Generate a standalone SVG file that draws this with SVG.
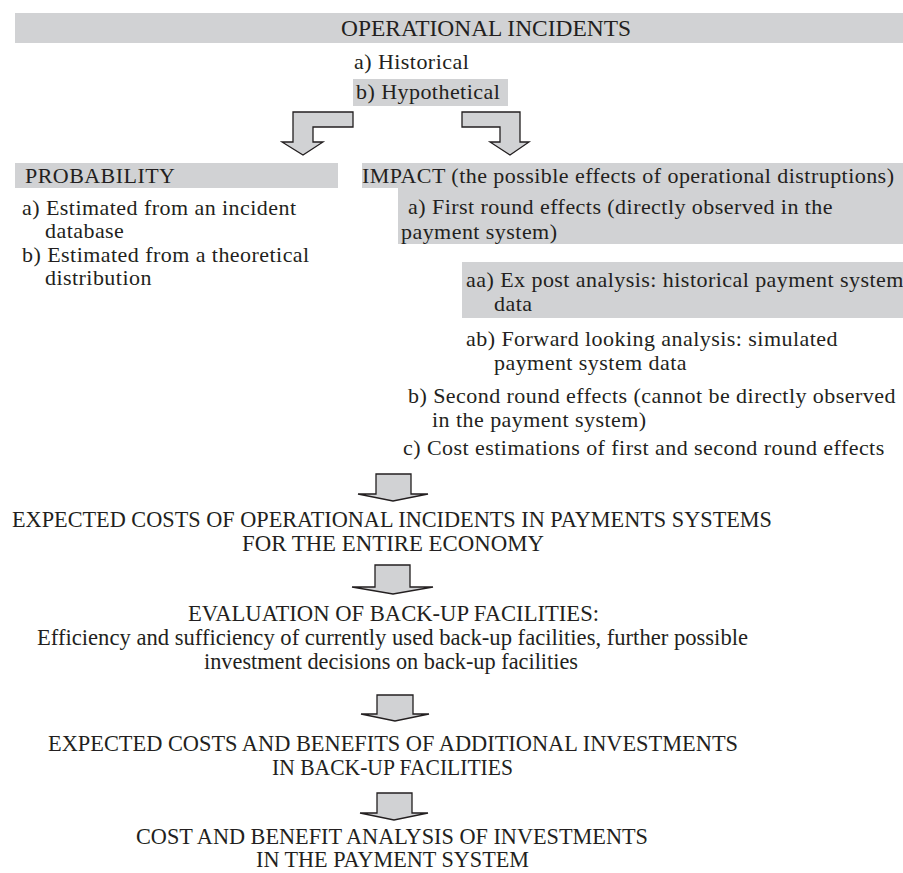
<svg xmlns="http://www.w3.org/2000/svg" width="903" height="873" viewBox="0 0 903 873">
<style>
.bg{fill:#d1d2d4}
.t{font-family:"Liberation Serif","Times New Roman",serif;font-size:22px;letter-spacing:0.45px;fill:#231f20}
.c{font-family:"Liberation Serif","Times New Roman",serif;font-size:23px;fill:#231f20}
.ar{fill:#d1d2d4;stroke:#231f20;stroke-width:1.3;stroke-linejoin:miter}
</style>
<rect width="903" height="873" fill="#fff"/>
<g id="incidents">
<rect class="bg" x="15" y="13" width="888" height="30"/>
<text class="c" x="341" y="36" textLength="290" lengthAdjust="spacingAndGlyphs">OPERATIONAL INCIDENTS</text>
<text class="t" x="354" y="69">a) Historical</text>
<rect class="bg" x="353" y="79" width="155" height="27"/>
<text class="t" x="356" y="99">b) Hypothetical</text>
</g>
<g id="probability">
<rect class="bg" x="15" y="163" width="323" height="25"/>
<text class="t" x="25" y="183">PROBABILITY</text>
<text class="t" x="22" y="215">a) Estimated from an incident</text>
<text class="t" x="45" y="238">database</text>
<text class="t" x="22" y="262">b) Estimated from a theoretical</text>
<text class="t" x="45" y="285">distribution</text>
</g>
<g id="impact">
<rect class="bg" x="362" y="163" width="541" height="25"/>
<text class="t" x="362" y="183">IMPACT (the possible effects of operational distruptions)</text>
<rect class="bg" x="398" y="188" width="505" height="56"/>
<text class="t" x="408" y="214">a) First round effects (directly observed in the</text>
<text class="t" x="401" y="239">payment system)</text>
<rect class="bg" x="462" y="262" width="441" height="56"/>
<text class="t" x="466" y="287">aa) Ex post analysis: historical payment system</text>
<text class="t" x="494" y="311">data</text>
<text class="t" x="466" y="346">ab) Forward looking analysis: simulated</text>
<text class="t" x="494" y="370">payment system data</text>
<text class="t" x="408" y="403">b) Second round effects (cannot be directly observed</text>
<text class="t" x="432" y="427">in the payment system)</text>
<text class="t" x="403" y="455">c) Cost estimations of first and second round effects</text>
</g>
<g id="expected-costs">
<text class="c" x="12" y="527" textLength="760" lengthAdjust="spacingAndGlyphs">EXPECTED COSTS OF OPERATIONAL INCIDENTS IN PAYMENTS SYSTEMS</text>
<text class="c" x="242" y="551" textLength="302" lengthAdjust="spacingAndGlyphs">FOR THE ENTIRE ECONOMY</text>
</g>
<g id="evaluation">
<text class="c" x="188" y="621" textLength="411" lengthAdjust="spacingAndGlyphs">EVALUATION OF BACK-UP FACILITIES:</text>
<text class="c" x="37" y="645" textLength="711" lengthAdjust="spacingAndGlyphs">Efficiency and sufficiency of currently used back-up facilities, further possible</text>
<text class="c" x="204" y="669" textLength="374" lengthAdjust="spacingAndGlyphs">investment decisions on back-up facilities</text>
</g>
<g id="costs-benefits">
<text class="c" x="48" y="751" textLength="690" lengthAdjust="spacingAndGlyphs">EXPECTED COSTS AND BENEFITS OF ADDITIONAL INVESTMENTS</text>
<text class="c" x="272" y="775" textLength="241" lengthAdjust="spacingAndGlyphs">IN BACK-UP FACILITIES</text>
</g>
<g id="analysis">
<text class="c" x="136" y="844" textLength="512" lengthAdjust="spacingAndGlyphs">COST AND BENEFIT ANALYSIS OF INVESTMENTS</text>
<text class="c" x="256" y="867" textLength="273" lengthAdjust="spacingAndGlyphs">IN THE PAYMENT SYSTEM</text>
</g>
<g id="connectors">
<path class="ar" d="M353,112 L293,112 L293,142 L282,142 L303,155 L323,142 L313,142 L313,127 L353,127 Z"/>
<path class="ar" d="M462,112 L520,112 L520,142 L529,142 L510,155 L490,142 L500,142 L500,127 L462,127 Z"/>
<path class="ar" d="M376,474 L411,474 L411,494 L428,494 L393,501 L358,494 L376,494 Z"/>
<path class="ar" d="M375,565 L410,565 L410,587 L433,587 L393,594 L352,587 L375,587 Z"/>
<path class="ar" d="M377,695 L413,695 L413,714 L429,714 L395,721 L361,714 L377,714 Z"/>
<path class="ar" d="M377,793 L412,793 L412,813 L428,813 L394,820 L360,813 L377,813 Z"/>
</g>
</svg>
